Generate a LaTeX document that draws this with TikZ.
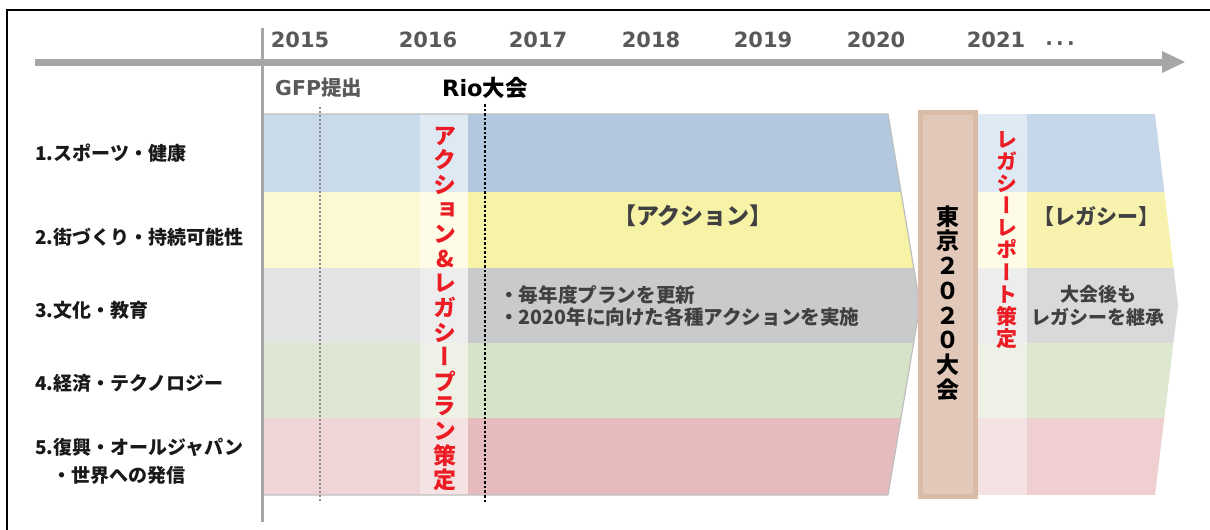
\documentclass[tikz,border=0pt]{standalone}
\usepackage{fontspec}
\newfontfamily\jp{Noto Sans CJK JP}
\newfontfamily\jpv[RawFeature=+vert]{Noto Sans CJK JP}
\newfontfamily\dv{DejaVu Sans}
\definecolor{axisgray}{HTML}{A6A6A6}
\definecolor{yeargray}{HTML}{595959}
\definecolor{txtgray}{HTML}{404040}
\definecolor{redtxt}{HTML}{EC1C24}
\definecolor{outl}{HTML}{BFBFBF}
% left region
\definecolor{L1}{HTML}{C9DAEB}\definecolor{L2}{HTML}{FBF8D2}\definecolor{L3}{HTML}{E3E4E4}\definecolor{L4}{HTML}{DFE7D3}\definecolor{L5}{HTML}{EFD5D6}
% light columns
\definecolor{C1}{HTML}{DFE9F3}\definecolor{C2}{HTML}{FEFCE6}\definecolor{C3}{HTML}{EDEDED}\definecolor{C4}{HTML}{EDF1E6}\definecolor{C5}{HTML}{F5E3E3}
% dark action region
\definecolor{D1}{HTML}{B3C8DF}\definecolor{D2}{HTML}{F6F2A6}\definecolor{D3}{HTML}{C9CACC}\definecolor{D4}{HTML}{D7E3C8}\definecolor{D5}{HTML}{E5BBBD}
% right legacy region
\definecolor{R1}{HTML}{C6D7E9}\definecolor{R2}{HTML}{F7F3AE}\definecolor{R3}{HTML}{D9D9D9}\definecolor{R4}{HTML}{DEE7D0}\definecolor{R5}{HTML}{EFCFCF}
\definecolor{tokfill}{HTML}{E2C8B9}
\definecolor{tokline}{HTML}{D9BBA8}
\begin{document}
\begin{tikzpicture}[x=1pt,y=-1pt,
  year/.style={font=\dv\bfseries\fontsize{21}{21}\selectfont, text=yeargray, inner sep=0},
  cat/.style={font=\jp\bfseries\fontsize{19}{28}\selectfont, text=black!90, inner sep=0, anchor=west, align=left},
  vred/.style={font=\jpv\bfseries\fontsize{23}{24.6}\selectfont, text=redtxt, inner sep=0, align=center},
  graytxt/.style={font=\jp\bfseries\fontsize{19.6}{22.5}\selectfont, text=txtgray, inner sep=0},
  bracket/.style={font=\jp\bfseries\fontsize{23}{23}\selectfont, text=txtgray, inner sep=0}
]
\useasboundingbox (0,0) rectangle (1210,530);
% frame
\draw[line width=2pt] (7,531) -- (7,10) -- (1211,10);

% bands
\foreach \t/\b/\i in {114/192/1,192/268/2,268/343/3,343/418/4,418/495/5}{
  \fill[fill=L\i] (262,\t) rectangle (420,\b);
  \fill[fill=C\i] (420,\t) rectangle (468,\b);
  \fill[fill=C\i] (978,\t) rectangle (1027,\b);
}
\begin{scope}
  \clip (468,114) -- (888,114) -- (920,305) -- (888,495) -- (468,495) -- cycle;
  \foreach \t/\b/\i in {114/192/1,192/268/2,268/343/3,343/418/4,418/495/5}{
    \fill[fill=D\i] (468,\t) rectangle (930,\b);
  }
\end{scope}
\begin{scope}
  \clip (1027,114) -- (1155,114) -- (1178,305) -- (1155,495) -- (1027,495) -- cycle;
  \foreach \t/\b/\i in {114/192/1,192/268/2,268/343/3,343/418/4,418/495/5}{
    \fill[fill=R\i] (1027,\t) rectangle (1190,\b);
  }
\end{scope}
\draw[outl, line width=1.2pt, line join=round] (262,114) -- (888,114) -- (920,305) -- (888,495) -- (262,495);

% dotted event lines
\coordinate (gfpT) at (320,107);
\coordinate (gfpB) at (320,502);
\coordinate (rioT) at (485,104);
\coordinate (rioB) at (485,503);
\draw[gray!90, line width=2.4pt, dash pattern=on 2pt off 2pt] (gfpT) -- (gfpB);
\draw[black, line width=2.8pt, dash pattern=on 2.6pt off 2pt] (rioT) -- (rioB);

% axes
\coordinate (vaT) at (262,28);
\coordinate (vaB) at (262,522);
\draw[axisgray, line width=3pt] (vaT) -- (vaB);
\coordinate (haL) at (35,62);
\coordinate (haR) at (1163,62);
\coordinate (tip) at (1185,62);
\draw[axisgray, line width=7pt] (haL) -- (haR);
\fill[axisgray] (1162,51) -- (tip) -- (1162,73) -- cycle;

% years
\node[year] (y15) at (300,40) {2015};
\node[year] (y16) at (428,40) {2016};
\node[year] (y17) at (538,40) {2017};
\node[year] (y18) at (651,40) {2018};
\node[year] (y19) at (763,40) {2019};
\node[year] (y20) at (876,40) {2020};
\node[year] (y21) at (996,40) {2021};
\node[font=\dv\bfseries\fontsize{20}{20}\selectfont, text=yeargray, inner sep=0] (dots) at (1060,46) {·\,·\,·};

% events
\node[inner sep=0, text=yeargray, anchor=west] (gfp) at (275,88) {\dv\bfseries\fontsize{20.5}{20.5}\selectfont GFP\jp\bfseries 提出};
\node[inner sep=0, text=black, anchor=west] (rio) at (442,88) {\dv\bfseries\fontsize{22.5}{22.5}\selectfont Rio\jp\bfseries 大会};

% category labels
\node[cat] (c1) at (35,153) {1.スポーツ・健康};
\node[cat] (c2) at (35,237) {2.街づくり・持続可能性};
\node[cat] (c3) at (35,310) {3.文化・教育};
\node[cat] (c4) at (35,383) {4.経済・テクノロジー};
\node[cat] (c5) at (35,461) {5.復興・オールジャパン\\\hspace*{17pt}・世界への発信};

% red vertical texts
\node[vred] (plan) at (445,309) {ア\\ク\\シ\\ョ\\ン\\\&\\レ\\ガ\\シ\\ー\\プ\\ラ\\ン\\策\\定};
\node[vred, font=\jpv\bfseries\fontsize{21}{22.1}\selectfont] (report) at (1007,240) {レ\\ガ\\シ\\ー\\レ\\ポ\\ー\\ト\\策\\定};

% Tokyo 2020 box
\node[draw=tokline, fill=tokfill, line width=5pt, minimum width=55pt, minimum height=384pt, inner sep=0] (tokbox) at (948,304.5) {};
\node[font=\jpv\bfseries\fontsize{23}{24.7}\selectfont, text=black, inner sep=0, align=center] (tokyo) at (948,303) {東\\京\\２\\０\\２\\０\\大\\会};

% texts in regions
\node[bracket] (action) at (693,216) {【アクション】};
\node[bracket, font=\jp\bfseries\fontsize{21}{21}\selectfont] (legacy) at (1096,216) {【レガシー】};
\node[graytxt, anchor=west, align=left] (bullets) at (499,306) {・毎年度プランを更新\\・2020年に向けた各種アクションを実施};
\node[graytxt, align=center, font=\jp\bfseries\fontsize{19}{23}\selectfont] (after) at (1098,306) {大会後も\\レガシーを継承};
\end{tikzpicture}
\end{document}
